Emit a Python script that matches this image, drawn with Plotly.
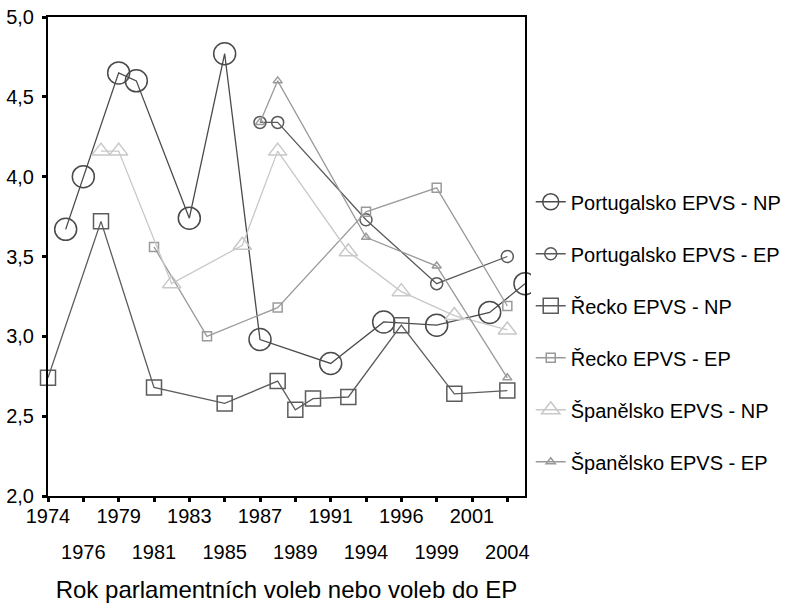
import plotly.graph_objects as go

# Category axis (election years, in order as in the chart; 1989 appears twice)
categories = ["1974", "1975", "1976", "1977", "1979", "1980", "1981", "1982",
              "1983", "1984", "1985", "1986", "1987", "1989", "1989/XI", "1990",
              "1991", "1993", "1994", "1995", "1996", "1997", "1999", "2000",
              "2001", "2002", "2004", "2005"]

# Tick labels (first row / second row)
tick_row1 = ["1974", "1979", "1983", "1987", "1991", "1996", "2001"]
tick_row2 = ["1976", "1981", "1985", "1989/XI", "1994", "1999", "2004"]

# Series
pt_np_years = ["1975", "1976", "1979", "1980", "1983", "1985", "1987", "1991",
               "1995", "1999", "2002", "2005"]
pt_np = [3.67, 4.00, 4.65, 4.60, 3.74, 4.77, 2.98, 2.83, 3.09, 3.07, 3.15, 3.33]

pt_ep_years = ["1987", "1989", "1994", "1999", "2004"]
pt_ep = [4.34, 4.34, 3.73, 3.33, 3.50]

gr_np_years = ["1974", "1977", "1981", "1985", "1989", "1989/XI", "1990", "1993",
               "1996", "2000", "2004"]
gr_np = [2.74, 3.72, 2.68, 2.58, 2.72, 2.54, 2.61, 2.62, 3.07, 2.64, 2.66]

gr_ep_years = ["1981", "1984", "1989", "1994", "1999", "2004"]
gr_ep = [3.56, 3.00, 3.18, 3.78, 3.93, 3.19]

es_np_years = ["1977", "1979", "1982", "1986", "1989", "1993", "1996", "2000", "2004"]
es_np = [4.16, 4.16, 3.33, 3.57, 4.16, 3.53, 3.28, 3.13, 3.04]

es_ep_years = ["1987", "1989", "1994", "1999", "2004"]
es_ep = [4.34, 4.60, 3.62, 3.44, 2.74]

pos = {c: i for i, c in enumerate(categories)}


def label(c):
    return c[:4]


series = [
    ("Portugalsko EPVS - NP", pt_np_years, pt_np, "circle-open", 22, "#4a4a4a"),
    ("Portugalsko EPVS - EP", pt_ep_years, pt_ep, "circle-open", 12, "#5a5a5a"),
    ("Řecko EPVS - NP", gr_np_years, gr_np, "square-open", 15, "#5c5c5c"),
    ("Řecko EPVS - EP", gr_ep_years, gr_ep, "square-open", 9, "#9a9a9a"),
    ("Španělsko EPVS - NP", es_np_years, es_np, "triangle-up-open", 16, "#c8c8c8"),
    ("Španělsko EPVS - EP", es_ep_years, es_ep, "triangle-up-open", 8, "#9a9a9a"),
]

fig = go.Figure()
for name, yrs, vals, sym, size, col in series:
    fig.add_trace(go.Scatter(
        x=[pos[y] for y in yrs], y=vals, name=name, legendgroup=name,
        mode="lines+markers",
        line=dict(color=col, width=1.3),
        marker=dict(symbol=sym, size=size, color=col, line=dict(color=col, width=1.5)),
        cliponaxis=False,
    ))

# helper (empty) trace so that the second-row tick-label axis gets drawn
fig.add_trace(go.Scatter(
    x=[pos[c] for c in tick_row2], y=[None] * len(tick_row2),
    xaxis="x2", yaxis="y", mode="markers", showlegend=False, hoverinfo="skip",
))

tick_all = sorted([pos[c] for c in tick_row1 + tick_row2])
row1_pos = {pos[c]: label(c) for c in tick_row1}

fig.update_layout(
    width=799, height=603,
    margin=dict(l=48, r=274, t=17, b=107),
    paper_bgcolor="white", plot_bgcolor="white",
    separators=", ",
    font=dict(family="Liberation Sans, Arial, sans-serif", size=20, color="black"),
    legend=dict(x=1.012, y=0.655, xanchor="left", yanchor="top",
                traceorder="grouped", tracegroupgap=23, itemsizing="trace",
                font=dict(size=20)),
    xaxis=dict(range=[0, len(categories) - 1], tickmode="array",
               tickvals=tick_all, ticktext=[row1_pos.get(p, "") for p in tick_all],
               ticks="outside", ticklen=4, tickwidth=3, tickcolor="black",
               showline=True, linecolor="black", linewidth=2, mirror=True,
               showgrid=False, zeroline=False, automargin=False,
               ticklabelstandoff=-3,
               title=dict(text="Rok parlamentních voleb nebo voleb do EP",
                          standoff=57)),
    xaxis2=dict(overlaying="x", anchor="y", side="bottom",
                range=[0, len(categories) - 1], tickmode="array",
                tickvals=[pos[c] for c in tick_row2],
                ticktext=[label(c) for c in tick_row2],
                ticks="", showline=False, showgrid=False, zeroline=False,
                automargin=False, ticklabelstandoff=42),
    yaxis=dict(range=[2, 5], tickmode="array",
               tickvals=[2, 2.5, 3, 3.5, 4, 4.5, 5], tickformat=".1f",
               ticks="outside", ticklen=4, tickwidth=3, tickcolor="black",
               showline=True, linecolor="black", linewidth=2, mirror=True,
               showgrid=False, zeroline=False, automargin=False,
               ticklabelstandoff=4),
)

# remove the default 8px page margin so the figure sits at the window corner
fig.write_html("out.html", config={"displayModeBar": False},
               post_script="document.body.style.margin='0px';")
